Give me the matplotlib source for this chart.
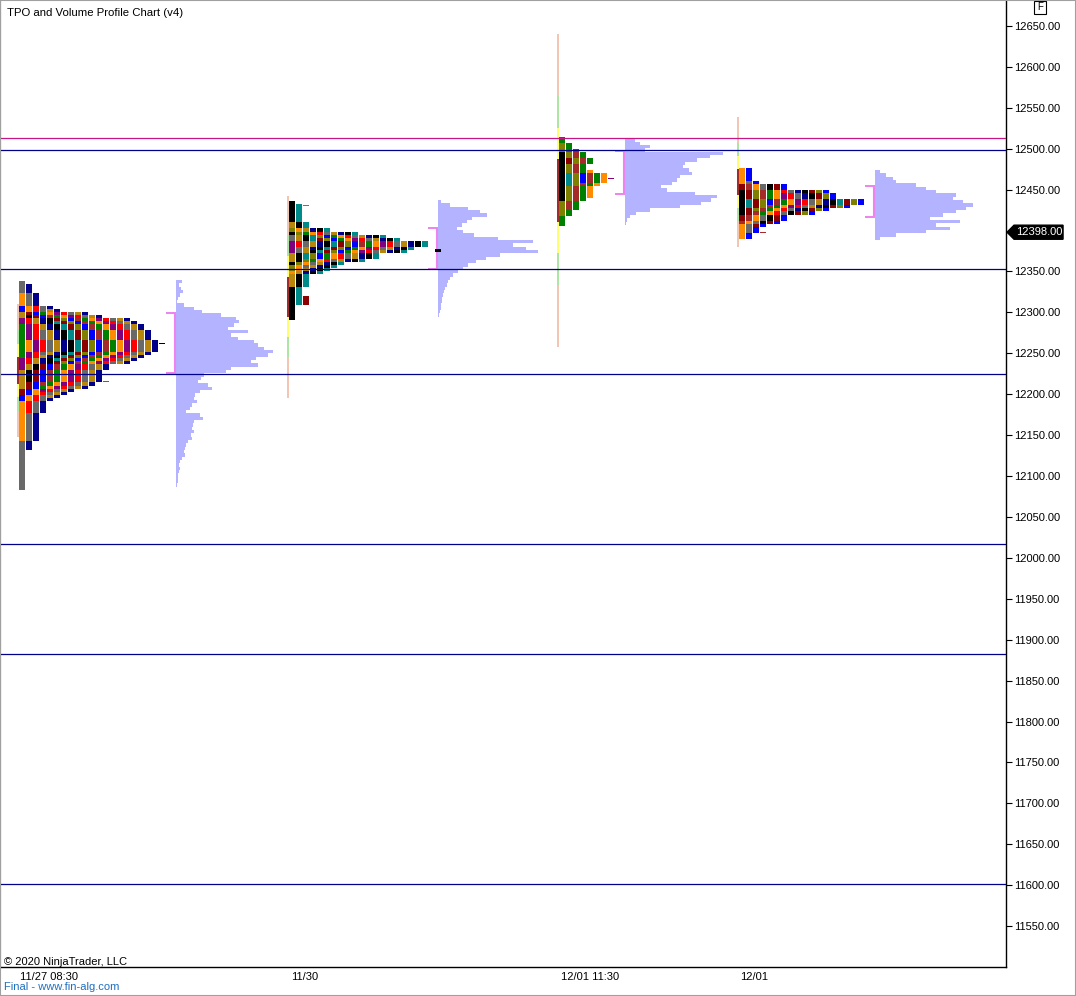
import numpy as np
import matplotlib.pyplot as plt
from matplotlib.patches import Polygon, Rectangle
from matplotlib.transforms import blended_transform_factory

plt.rcParams['font.family'] = ['Liberation Sans', 'DejaVu Sans']

#TPO periods in time order (high, low), one list pair per session
p1_high = [12284.5, 12265, 12293, 12289.5, 12275, 12297, 12292, 12294.5, 12288, 12300.5, 12293,
           12306.5, 12295.5, 12298, 12320, 12300.5, 12308, 12337, 12301.5, 12333.5, 12262.5, 12216]
p1_low = [12245.5, 12253, 12231, 12240.5, 12251.5, 12210, 12239.5, 12215, 12244, 12201.5, 12239.5,
          12194, 12211, 12209, 12145, 12205, 12178, 12085, 12198, 12134, 12262.5, 12216]

p2_high = [12387.5, 12387, 12392, 12394.5, 12387, 12398.5, 12392, 12388.5, 12399.5, 12392.5, 12385,
           12397, 12400.5, 12389.5, 12396, 12398.5, 12408, 12400.5, 12436, 12432.5, 12319, 12430.5]
p2_low = [12375, 12381, 12373, 12365, 12377, 12360.5, 12368, 12374.5, 12352, 12366, 12380.5,
          12363, 12348.5, 12374, 12364, 12356, 12333.5, 12349.5, 12292, 12311.5, 12312.5, 12430.5]

p3_high = [12496, 12469, 12488.5, 12507, 12469, 12498.5, 12512.5, 12470.5, 12464]
p3_low = [12439.5, 12458, 12482.5, 12419, 12459, 12425, 12408, 12442, 12464]

p4_high = [12448.5, 12438, 12453.5, 12446.5, 12438, 12453.5, 12447.5, 12475, 12444.5, 12449.5,
           12458.5, 12438, 12447.5, 12453.5, 12437, 12456, 12448.5, 12473, 12398]
p4_low = [12422, 12429, 12415, 12426, 12433.5, 12411, 12423, 12391.5, 12429, 12421,
          12397.5, 12429, 12424.5, 12412, 12434, 12407, 12422, 12391.5, 12398]

#session start positions on the time axis and first period colour
profile_x = [19, 289, 559, 739]
color_offset = [6, 8, 0, 0]

#deviation band per session (center, sigma)
band_center = [12229, 12319, 12449, 12459.3]
band_sigma = [16.3, 24.7, 38.3, 15.9]

#volume profiles, rows going down from vp_top
vp1 = [6, 3, 5, 7, 4, 2, 1, 8, 18, 26, 45, 60, 63, 58, 52, 72, 55, 62, 78, 82,
       88, 97, 92, 80, 75, 82, 55, 50, 28, 25, 22, 32, 36, 24, 19, 18, 21, 16, 14, 10,
       24, 27, 18, 17, 16, 18, 15, 16, 12, 10, 9, 8, 9, 6, 4, 3, 4, 3, 2, 2, 2, 1]
vp2 = [3, 12, 30, 42, 49, 34, 29, 24, 19, 25, 36, 60, 95, 75, 88, 100, 62, 48, 38, 30,
       25, 20, 15, 12, 10, 9, 7, 6, 5, 4, 4, 3, 3, 2, 1]
vp3 = [10, 15, 25, 20, 98, 85, 72, 60, 58, 64, 67, 55, 52, 47, 36, 42, 70, 92, 86, 76,
       55, 25, 11, 5, 2, 1]
vp4 = [5, 11, 18, 21, 41, 51, 61, 81, 78, 88, 98, 91, 81, 68, 55, 85, 61, 75, 51, 21, 5]
vp_x = [176, 438, 625, 875]
vp_top = [12337.5, 12435.3, 12510.7, 12471.9]
va_high = [12299, 12403, 12497, 12454]
va_low = [12226, 12353.5, 12445, 12416]
p2_close = 12376

hlines_blue = [12498.5, 12353, 12225, 12017, 11882, 11601]
hline_magenta = 12513
last_price = 12398

xtick_pos = [49, 305, 590, 754]
xtick_lab = ['11/27 08:30', '11/30', '12/01 11:30', '12/01']
ytick_vals = [11550, 11600, 11650, 11700, 11750, 11800, 11850, 11900, 11950, 12000, 12050,
              12100, 12150, 12200, 12250, 12300, 12350, 12450, 12500, 12550, 12600, 12650]

TPO_ROW = 3.75
VP_ROW = 4.07
COL_PITCH = 7
COL_W = 6

PALETTE = ['#000000', '#008b8b', '#8b0000', '#808000', '#0000ff', '#a52a2a', '#008000',
           '#ff8c00', '#800080', '#ff0000', '#696969', '#b8860b', '#00008b']
VP_COLOR = '#b3b3ff'
VA_COLOR = '#ee82ee'
SALMON = '#f2c6b2'
LGREEN = '#ade6a2'
YELLOW = '#ffff6e'
DRED = '#a52a2a'


def fx(px):
    return px / 1076.0


def fy(py):
    return 1 - py / 996.0


def drawTpo(ax, highs, lows, x0, offset):
    highs = np.array(highs)
    lows = np.array(lows)
    rows = np.arange(lows.min(), highs.max() + TPO_ROW / 2, TPO_ROW)

    #stack the periods trading at each price from left to right
    cols = {}
    for q in rows:
        live = [i for i in range(len(highs)) if lows[i] - TPO_ROW / 2 <= q < highs[i] + TPO_ROW / 2]
        for j, pid in enumerate(live):
            cols.setdefault(j, []).append((q, pid))

    for j, cells in cols.items():
        runs = []
        startQ, cur = cells[0]
        prevQ = startQ
        for q, pid in cells[1:]:
            if pid != cur or q - prevQ > TPO_ROW * 1.5:
                runs.append((startQ, prevQ, cur))
                startQ, cur = q, pid
            prevQ = q
        runs.append((startQ, prevQ, cur))

        for lo, hi, pid in runs:
            color = PALETTE[(pid + offset) % len(PALETTE)]
            if highs[pid] == lows[pid]:
                #single print drawn as a thin dash
                ax.bar(x0 + j * COL_PITCH, 1.3, bottom=highs[pid] - 0.65, width=COL_W,
                       align='edge', color=color, linewidth=0, zorder=2)
                continue
            ax.bar(x0 + j * COL_PITCH, hi - lo + TPO_ROW, bottom=lo - TPO_ROW / 2,
                   width=COL_W, align='edge', color=color, linewidth=0, zorder=2)


def drawBands(ax, c, s, x0):
    segs = [(-5, -3, SALMON), (-3, -2, LGREEN), (-2, -1, YELLOW), (-1, 1, DRED),
            (1, 2, YELLOW), (2, 3, LGREEN), (3, 5, SALMON)]
    for a, b, col in segs:
        ax.bar(x0 - 2.2, (b - a) * s, bottom=c + a * s, width=2, align='edge',
               color=col, linewidth=0, zorder=2)


def drawVp(ax, vols, top, x0, vah, val):
    prices = top - VP_ROW * np.arange(len(vols))
    ax.barh(prices, vols, left=x0, height=VP_ROW, color=VP_COLOR, linewidth=0, zorder=2)
    ax.plot([x0 - 1, x0 - 1], [val, vah], color=VA_COLOR, lw=1.5, solid_capstyle='butt', zorder=3)
    ax.hlines([vah, val], x0 - 10, x0, color=VA_COLOR, lw=1.4, zorder=3)


def graph():
    fig = plt.figure(figsize=(10.76, 9.96), dpi=100)
    ax = fig.add_axes([0, 1 - 967 / 996.0, 1006 / 1076.0, 967 / 996.0])
    ax.set_xlim(0, 1006)
    ax.set_ylim(11500, 12681.8)

    tpos = [(p1_high, p1_low), (p2_high, p2_low), (p3_high, p3_low), (p4_high, p4_low)]
    for k, (h, l) in enumerate(tpos):
        drawBands(ax, band_center[k], band_sigma[k], profile_x[k])
        drawTpo(ax, h, l, profile_x[k], color_offset[k])

    vps = [vp1, vp2, vp3, vp4]
    for k, v in enumerate(vps):
        drawVp(ax, v, vp_top[k], vp_x[k], va_high[k], va_low[k])

    #close marker of second session
    ax.bar(vp_x[1] - 3, 3.6, bottom=p2_close - 1.8, width=6, align='edge', color='black',
           linewidth=0, zorder=4)

    for lvl in hlines_blue:
        ax.axhline(lvl, color='#00008b', lw=0.9, zorder=5)
    ax.axhline(hline_magenta, color='#c71585', lw=0.9, zorder=5)

    #axes styling
    ax.yaxis.tick_right()
    ax.set_yticks(ytick_vals)
    ax.set_yticklabels(['%.2f' % v for v in ytick_vals])
    ax.tick_params(axis='y', direction='out', length=4.5, width=0.8, pad=1, labelsize=8, colors='black')
    ax.set_xticks(xtick_pos)
    ax.set_xticklabels(xtick_lab)
    ax.tick_params(axis='x', length=0, pad=3.5, labelsize=8)
    ax.spines['top'].set_visible(False)
    ax.spines['left'].set_color('#404040')
    ax.spines['right'].set_linewidth(1)
    ax.spines['bottom'].set_linewidth(1)

    #last price tag on the price axis
    tr = blended_transform_factory(ax.transAxes, ax.transData)
    hh = 8.6
    tag = Polygon([(1.001, last_price), (1.008, last_price + hh), (1.0567, last_price + hh),
                   (1.0567, last_price - hh), (1.008, last_price - hh)],
                  closed=True, transform=tr, facecolor='black', edgecolor='black', clip_on=False, zorder=6)
    ax.add_patch(tag)
    ax.text(1.0328, last_price, '%.2f' % last_price, transform=tr, color='white', fontsize=8,
            ha='center', va='center', clip_on=False, zorder=7)

    fig.text(fx(7), fy(13), 'TPO and Volume Profile Chart (v4)', fontsize=8.2, ha='left', va='center')
    fig.text(fx(4), fy(961.5), '\u00a9 2020 NinjaTrader, LLC', fontsize=8, ha='left', va='center')
    fig.text(fx(4), fy(987), 'Final - www.fin-alg.com', fontsize=8, color='#1f6fbf', ha='left', va='center')

    #small "F" box in the corner
    fig.add_artist(Rectangle((fx(1034), fy(14)), fx(12), 13 / 996.0, transform=fig.transFigure,
                             facecolor='white', edgecolor='black', lw=0.8))
    fig.text(fx(1040), fy(7.5), 'F', fontsize=7, ha='center', va='center')

    fig.add_artist(Rectangle((0, 0), 1, 1, transform=fig.transFigure, fill=False,
                             edgecolor='#a0a0a0', lw=1.5))

    fig.savefig('out.png', dpi=100)


if __name__ == "__main__":
    graph()
